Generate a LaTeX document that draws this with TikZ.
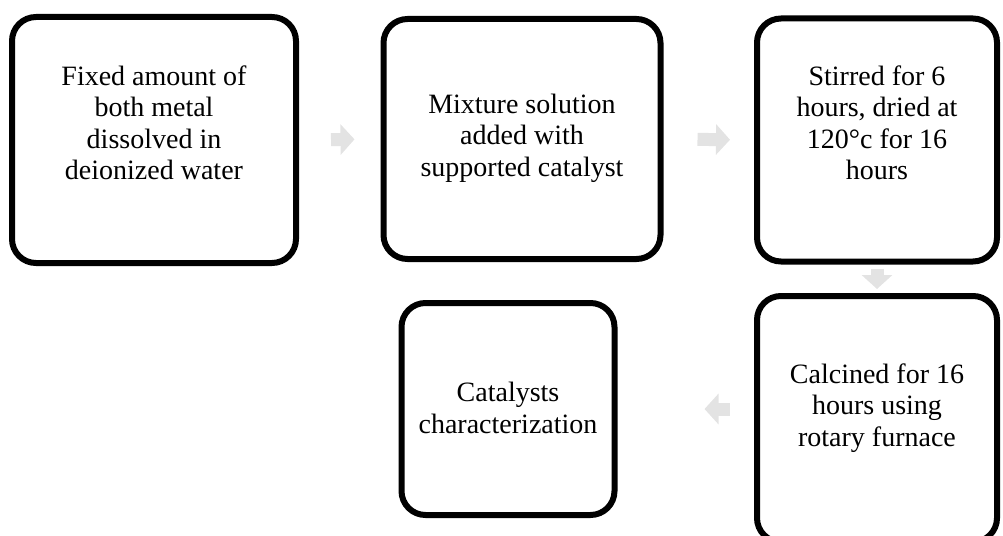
\documentclass[tikz,border=0pt]{standalone}
\usepackage{fontspec}
\setmainfont{Liberation Serif}
\usetikzlibrary{arrows.meta}

\begin{document}
\begin{tikzpicture}[x=1pt, y=-1pt,
    stepbox/.style ={draw, line width=6pt, rounded corners=24pt, inner sep=0pt},
    steptext/.style ={align=center, font=\fontsize{28}{31.5}\selectfont},
    flowarrow/.style ={line width=13pt, draw=black!11, -{Triangle[width=30pt,length=14pt]}}]
   \clip (0,0) rectangle (1003,535);
   \useasboundingbox (0,0) rectangle (1003,535);

   \node[stepbox, minimum width=284pt, minimum height=246pt] (b1) at (154,140) {};
   \node[stepbox, minimum width=277pt, minimum height=240pt] (b2) at (522,139) {};
   \node[stepbox, minimum width=240pt, minimum height=243pt] (b3) at (877,140) {};
   \node[stepbox, minimum width=213pt, minimum height=212pt] (b4) at (508,409) {};
   \node[stepbox, minimum width=240pt, minimum height=246pt] (b5) at (877,419) {};

   \node[steptext] (t1) at (154,123) {Fixed amount of\\both metal\\dissolved in\\deionized water};
   \node[steptext] (t2) at (522,138) {Mixture solution\\added with\\supported catalyst};
   \node[steptext] (t3) at (877,123) {Stirred for 6\\hours, dried at\\120°c for 16\\hours};
   \node[steptext] (t4) at (508,408) {Catalysts\\characterization};
   \node[steptext] (t5) at (877,408) {Calcined for 16\\hours using\\rotary furnace};

   \draw[flowarrow, shorten <=32pt, shorten >=26pt] (b1.east) -- (b2.west);
   \draw[flowarrow, shorten <=34pt, shorten >=24pt] (b2.east) -- (b3.west);
   \draw[flowarrow, shorten <=4pt, shorten >=4pt] (b3.south) -- (b5.north);
   \draw[flowarrow, shorten <=24pt, shorten >=87pt] (b5.west |- b4.center) -- (b4.east);
 \end{tikzpicture}
\end{document}
